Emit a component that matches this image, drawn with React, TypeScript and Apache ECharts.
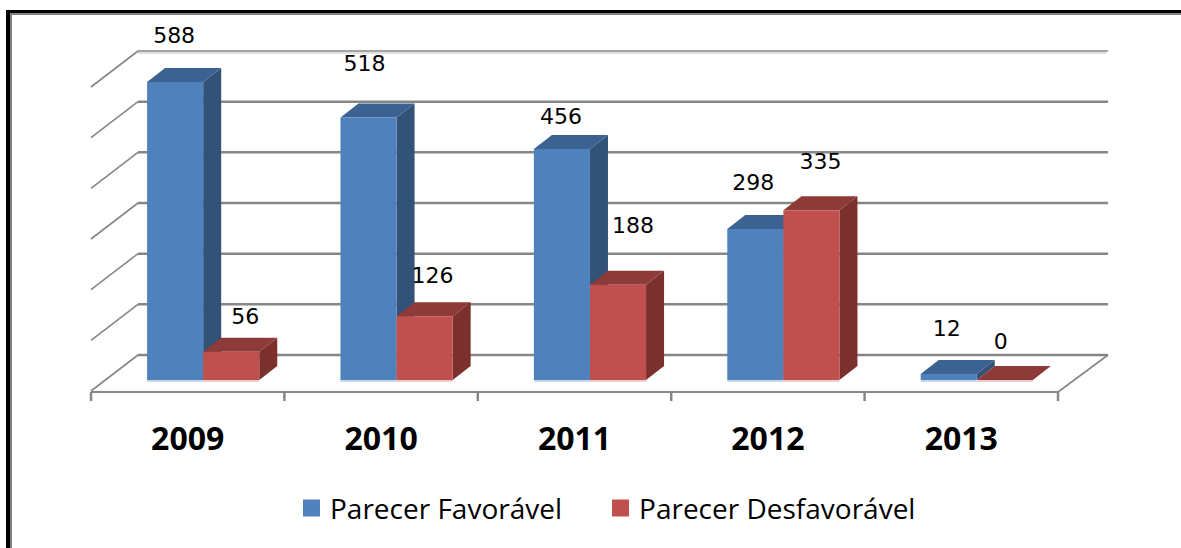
import React, { useEffect, useRef } from "react";
import * as echarts from "echarts";

const categories = ["2009", "2010", "2011", "2012", "2013"];
const favoravel = [588, 518, 456, 298, 12];
const desfavoravel = [56, 126, 188, 335, 0];
const yTicks = [0, 100, 200, 300, 400, 500, 600];

// Hand placement of the data labels relative to the top-centre of each bar's front face.
const favLabelOffset = [[-1, -47], [-4, -54], [-1, -32], [-2, -47], [-2, -45]];
const desLabelOffset = [[14, -35], [8, -41], [15, -59], [9, -49], [-4, -39]];

const DX = 18, DY = -14;
const GRID_COLOR = "#868686";
const LABEL_FONT = '22px "DejaVu Sans"';

function poly(points: number[][], fill: string) {
  return { type: "polygon", silent: true, shape: { points }, style: { fill, stroke: null } };
}

function barRender(values: number[], slot: number, front: string, top: string, side: string, shadow: string, offsets: number[][]) {
  return (params: any, api: any) => {
    const i = api.value(0);
    const [cx, y] = api.coord([i, api.value(1)]);
    const [, y0] = api.coord([i, 0]);
    const cw = api.size([1, 0])[0];
    const w = cw * 0.29;
    const x0 = cx - cw / 2 + cw * 0.29 + slot * w;
    const x1 = x0 + w;
    const off = offsets[i];
    return {
      type: "group",
      children: [
        poly([[x0, y0], [x1, y0], [x1, y0 + 2], [x0, y0 + 2]], shadow),
        poly([[x1, y], [x1 + DX, y + DY], [x1 + DX, y0 + DY], [x1, y0]], side),
        poly([[x0, y], [x0 + DX, y + DY], [x1 + DX, y + DY], [x1, y]], top),
        poly([[x0, y], [x1, y], [x1, y0], [x0, y0]], front),
        {
          type: "text",
          silent: true,
          x: (x0 + x1) / 2 + off[0],
          y: y + off[1],
          style: {
            text: String(values[i]),
            font: LABEL_FONT,
            fill: "#000000",
            align: "center",
            verticalAlign: "middle",
          },
        },
      ],
    };
  };
}

function gridRender(params: any, api: any) {
  const v = api.value(1);
  const y = api.coord([0, v])[1];
  const cs = params.coordSys;
  const left = cs.x, right = cs.x + cs.width;
  const backY = y - 25;
  const isTop = v === yTicks[yTicks.length - 1];
  const wallStyle = { stroke: GRID_COLOR, lineWidth: isTop ? 1.5 : 2.5, fill: null };
  const diagStyle = { stroke: GRID_COLOR, lineWidth: 1.6, fill: null };
  const children: any[] = [
    { type: "line", silent: true, shape: { x1: left, y1: y + 11, x2: left + 47, y2: backY }, style: diagStyle },
    { type: "line", silent: true, shape: { x1: left + 47, y1: backY, x2: right + 50, y2: backY }, style: wallStyle },
  ];
  if (v === 0) {
    const axisY = y + 12;
    const tickStyle = { stroke: GRID_COLOR, lineWidth: 2.5, fill: null };
    children.push({ type: "line", silent: true, shape: { x1: right, y1: axisY, x2: right + 50, y2: backY }, style: diagStyle });
    children.push({ type: "line", silent: true, shape: { x1: left, y1: axisY, x2: right, y2: axisY }, style: { stroke: GRID_COLOR, lineWidth: 2, fill: null } });
    for (let i = 0; i <= categories.length; i++) {
      const tx = left + (cs.width * i) / categories.length;
      children.push({ type: "line", silent: true, shape: { x1: tx, y1: axisY, x2: tx, y2: axisY + 9 }, style: tickStyle });
    }
  }
  if (isTop) {
    children.push({ type: "rect", silent: true, shape: { x: left + 47, y: backY + 1, width: right + 48 - left - 47, height: 2 }, style: { fill: "#e0e0e0" } });
  }
  return { type: "group", children };
}

export default function App() {
  const ref = useRef<HTMLDivElement>(null);
  useEffect(() => {
    const chart = echarts.init(ref.current!, null, { renderer: "svg" });
    chart.setOption({
      animation: false,
      backgroundColor: "#ffffff",
      grid: { left: 91, right: 123, top: 76, bottom: 168 },
      xAxis: {
        type: "category",
        data: categories,
        offset: 12,
        axisLine: { show: false },
        axisTick: { show: false },
        axisLabel: { color: "#000000", fontFamily: "Open Sans", fontWeight: "bold", fontSize: 32, margin: 29 },
      },
      yAxis: { type: "value", min: 0, max: 600, interval: 100, show: false, splitLine: { show: false } },
      legend: {
        data: ["Parecer Favorável", "Parecer Desfavorável"],
        left: 298,
        top: 489,
        itemWidth: 17,
        itemHeight: 17,
        itemGap: 50,
        icon: "rect",
        textStyle: { color: "#000000", fontFamily: "Open Sans", fontSize: 28, padding: [0, 0, 0, 5] },
      },
      series: [
        {
          type: "custom",
          name: "grid",
          silent: true,
          clip: false,
          z: 1,
          data: yTicks.map((v) => [0, v]),
          encode: { x: 0, y: 1 },
          renderItem: gridRender,
        },
        {
          type: "custom",
          name: "Parecer Favorável",
          clip: false,
          z: 2,
          itemStyle: { color: "#4F81BD" },
          data: favoravel.map((v, i) => [i, v]),
          encode: { x: 0, y: 1 },
          renderItem: barRender(favoravel, 0, "#4F81BD", "#3B6291", "#325278", "#c9d6ea", favLabelOffset),
        },
        {
          type: "custom",
          name: "Parecer Desfavorável",
          clip: false,
          z: 3,
          itemStyle: { color: "#C0504D" },
          data: desfavoravel.map((v, i) => [i, v]),
          encode: { x: 0, y: 1 },
          renderItem: barRender(desfavoravel, 1, "#C0504D", "#8E3A38", "#7C302E", "#e8cfce", desLabelOffset),
        },
      ],
      graphic: [
        { type: "rect", silent: true, z: 10, shape: { x: 6, y: 10, width: 1175, height: 3 }, style: { fill: "#000000" } },
        { type: "rect", silent: true, z: 10, shape: { x: 10, y: 13, width: 1171, height: 2 }, style: { fill: "#808080" } },
        { type: "rect", silent: true, z: 10, shape: { x: 6, y: 10, width: 4, height: 538 }, style: { fill: "#000000" } },
        { type: "rect", silent: true, z: 10, shape: { x: 10, y: 13, width: 2, height: 535 }, style: { fill: "#808080" } },
      ],
    });
    return () => chart.dispose();
  }, []);
  return <div ref={ref} style={{ position: "absolute", left: 0, top: 0, width: 1181, height: 548 }} />;
}
